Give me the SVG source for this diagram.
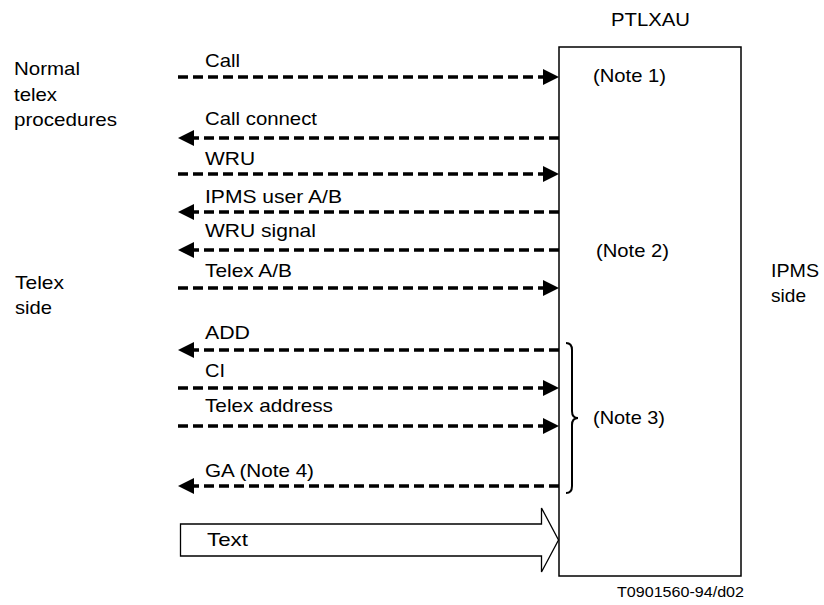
<svg xmlns="http://www.w3.org/2000/svg" width="824" height="605" viewBox="0 0 824 605">
<style>
text{font-family:"Liberation Sans",Arial,sans-serif;font-size:18.5px;fill:#000}
.msg{fill:none;stroke:#000;stroke-width:3.5;stroke-dasharray:10 5}
.box{fill:#fff;stroke:#000;stroke-width:1.5}
.thin{fill:none;stroke:#000;stroke-width:1.3}
</style>
<defs>
<marker id="ah" markerUnits="userSpaceOnUse" viewBox="0 -9 18 18" refX="0" refY="0" markerWidth="18" markerHeight="18" orient="auto" overflow="visible">
<path d="M0,-8 L16,0 L0,8 z" fill="#000"/>
</marker>
</defs>
<rect width="824" height="605" fill="#fff"/>

<g id="ptlxau">
<rect class="box" x="559" y="47" width="182" height="529"/>
<text x="611" y="26" textLength="79" lengthAdjust="spacingAndGlyphs">PTLXAU</text>
<text x="593" y="82" textLength="73" lengthAdjust="spacingAndGlyphs">(Note 1)</text>
<text x="596" y="257" textLength="73" lengthAdjust="spacingAndGlyphs">(Note 2)</text>
<text x="593" y="424" textLength="72" lengthAdjust="spacingAndGlyphs">(Note 3)</text>
</g>

<g id="labels-left">
<text x="14" y="75" textLength="66" lengthAdjust="spacingAndGlyphs">Normal</text>
<text x="14" y="100.5" textLength="43" lengthAdjust="spacingAndGlyphs">telex</text>
<text x="14" y="126" textLength="103" lengthAdjust="spacingAndGlyphs">procedures</text>
<text x="15" y="289" textLength="49" lengthAdjust="spacingAndGlyphs">Telex</text>
<text x="15" y="314" textLength="37" lengthAdjust="spacingAndGlyphs">side</text>
</g>

<g id="labels-right">
<text x="771" y="277" textLength="48" lengthAdjust="spacingAndGlyphs">IPMS</text>
<text x="771" y="302" textLength="35" lengthAdjust="spacingAndGlyphs">side</text>
</g>

<g id="connectors">
<line class="msg" x1="178" y1="77" x2="543" y2="77" marker-end="url(#ah)"/>
<line class="msg" x1="559" y1="138" x2="194" y2="138" marker-end="url(#ah)"/>
<line class="msg" x1="178" y1="174" x2="543" y2="174" marker-end="url(#ah)"/>
<line class="msg" x1="559" y1="212" x2="194" y2="212" marker-end="url(#ah)"/>
<line class="msg" x1="559" y1="250" x2="194" y2="250" marker-end="url(#ah)"/>
<line class="msg" x1="178" y1="288" x2="543" y2="288" marker-end="url(#ah)"/>
<line class="msg" x1="559" y1="350" x2="194" y2="350" marker-end="url(#ah)"/>
<line class="msg" x1="178" y1="388" x2="543" y2="388" marker-end="url(#ah)"/>
<line class="msg" x1="178" y1="426" x2="543" y2="426" marker-end="url(#ah)"/>
<line class="msg" x1="559" y1="486" x2="194" y2="486" marker-end="url(#ah)"/>
<path class="thin" d="M180.5,524 L541.5,524 L541.5,508 L558.5,540 L541.5,572 L541.5,556 L180.5,556 Z"/>
<path fill="none" stroke="#000" stroke-width="2" d="M566,343 Q572,343 572,350 L572,411 Q572,418 578,418 Q572,418 572,425 L572,486 Q572,493 566,493"/>
</g>

<g id="connector-labels">
<text x="205" y="66.5" textLength="35" lengthAdjust="spacingAndGlyphs">Call</text>
<text x="205" y="125" textLength="112" lengthAdjust="spacingAndGlyphs">Call connect</text>
<text x="205" y="165" textLength="50" lengthAdjust="spacingAndGlyphs">WRU</text>
<text x="205" y="203" textLength="137" lengthAdjust="spacingAndGlyphs">IPMS user A/B</text>
<text x="205" y="237" textLength="111" lengthAdjust="spacingAndGlyphs">WRU signal</text>
<text x="205" y="277" textLength="87" lengthAdjust="spacingAndGlyphs">Telex A/B</text>
<text x="205" y="339" textLength="45" lengthAdjust="spacingAndGlyphs">ADD</text>
<text x="205" y="377" textLength="20" lengthAdjust="spacingAndGlyphs">CI</text>
<text x="205" y="412" textLength="128" lengthAdjust="spacingAndGlyphs">Telex address</text>
<text x="205" y="476.5" textLength="109" lengthAdjust="spacingAndGlyphs">GA (Note 4)</text>
<text x="207" y="546" textLength="41" lengthAdjust="spacingAndGlyphs">Text</text>
</g>

<text x="617" y="597" textLength="127" lengthAdjust="spacingAndGlyphs" style="font-size:15px">T0901560-94/d02</text>
</svg>
